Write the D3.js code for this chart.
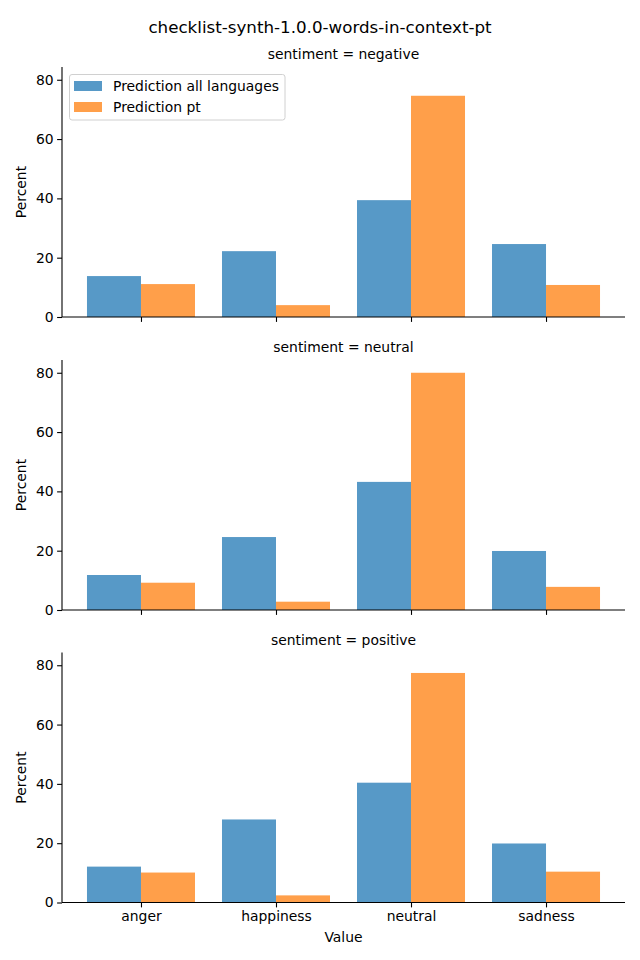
<!DOCTYPE html>
<html>
<head>
<meta charset="utf-8">
<script src="https://cdn.jsdelivr.net/npm/d3@7"></script>
<style>
  html, body { margin: 0; padding: 0; background: #fff; }
  svg { display: block; font-family: "DejaVu Sans", sans-serif; }
</style>
</head>
<body>
<svg id="chart" width="640" height="960"></svg>
<script>
const title = "checklist-synth-1.0.0-words-in-context-pt";
const categories = ["anger", "happiness", "neutral", "sadness"];
const panels = ["negative", "neutral", "positive"];
const seriesNames = ["Prediction all languages", "Prediction pt"];
const allLanguages = [
  [13.8, 22.2, 39.4, 24.6],
  [11.8, 24.6, 43.2, 19.9],
  [12.1, 28.0, 40.4, 19.9]
];
const ptValues = [
  [11.1, 4.0, 74.6, 10.8],
  [9.2, 2.8, 80.0, 7.8],
  [10.1, 2.4, 77.4, 10.4]
];
const yTicks = [0, 20, 40, 60, 80];
const colors = ["#5799c7", "#ff9f4a"];

const svg = d3.select("#chart");
const left = 62, right = 625;
const panelTops = [67, 360, 652.5];
const panelH = 250;

svg.append("text").attr("x", 320).attr("y", 33).attr("text-anchor", "middle")
  .attr("font-size", "16.7px").attr("fill", "#000").text(title);

const x = d3.scaleLinear().domain([-0.585, 3.585]).range([left, right]);
const barW = x(0.4) - x(0);

panels.forEach((p, i) => {
  const top = panelTops[i];
  const y = d3.scaleLinear().domain([0, 84.3]).range([top + panelH, top]);
  const g = svg.append("g");

  g.append("text").attr("x", (left + right) / 2).attr("y", top - 8)
    .attr("text-anchor", "middle").attr("font-size", "13.9px").attr("fill", "#000")
    .text("sentiment = " + p);

  const series = [allLanguages[i], ptValues[i]];
  series.forEach((vals, s) => {
    g.selectAll(null).data(vals).enter().append("rect")
      .attr("x", (d, k) => x(k) + (s === 0 ? -barW : 0))
      .attr("width", barW)
      .attr("y", d => y(d))
      .attr("height", d => y(0) - y(d))
      .attr("fill", colors[s]);
  });

  const yAxis = d3.axisLeft(y).tickValues(yTicks).tickSize(4.9).tickPadding(3.5);
  const ya = g.append("g").attr("transform", `translate(${left},0)`).call(yAxis);
  ya.select(".domain").attr("d", `M0,${top + panelH}V${top}`).attr("stroke", "#000").attr("stroke-width", 1.1);
  ya.selectAll(".tick line").attr("stroke", "#000").attr("stroke-width", 1.1);
  ya.selectAll(".tick text").attr("font-size", "13.9px").attr("fill", "#000")
    .attr("font-family", "DejaVu Sans, sans-serif");

  const xAxis = d3.axisBottom(x).tickValues([0, 1, 2, 3]).tickSize(4.9).tickPadding(3.5)
    .tickFormat(k => i === 2 ? categories[k] : "");
  const xa = g.append("g").attr("transform", `translate(0,${top + panelH})`).call(xAxis);
  xa.select(".domain").attr("d", `M${left},0H${right}`).attr("stroke", "#000").attr("stroke-width", 1.1);
  xa.selectAll(".tick line").attr("stroke", "#000").attr("stroke-width", 1.1);
  xa.selectAll(".tick text").attr("font-size", "13.9px").attr("fill", "#000")
    .attr("font-family", "DejaVu Sans, sans-serif");

  g.append("text").attr("transform", `translate(26,${top + panelH / 2}) rotate(-90)`)
    .attr("text-anchor", "middle").attr("font-size", "13.9px").attr("fill", "#000").text("Percent");

  if (i === 0) {
    const lg = g.append("g");
    lg.append("rect").attr("x", 69.5).attr("y", 74.5).attr("width", 215.5).attr("height", 45.5)
      .attr("rx", 2.5).attr("fill", "#fff").attr("fill-opacity", 0.8)
      .attr("stroke", "#d0d0d0").attr("stroke-width", 1);
    seriesNames.forEach((n, s) => {
      lg.append("rect").attr("x", 74).attr("y", 81 + s * 21).attr("width", 28).attr("height", 10)
        .attr("fill", colors[s]);
      lg.append("text").attr("x", 113).attr("y", 91 + s * 21).attr("font-size", "13.9px")
        .attr("fill", "#000").text(n);
    });
  }
});

svg.append("text").attr("x", (left + right) / 2).attr("y", 942).attr("text-anchor", "middle")
  .attr("font-size", "13.9px").attr("fill", "#000").text("Value");
</script>
</body>
</html>
